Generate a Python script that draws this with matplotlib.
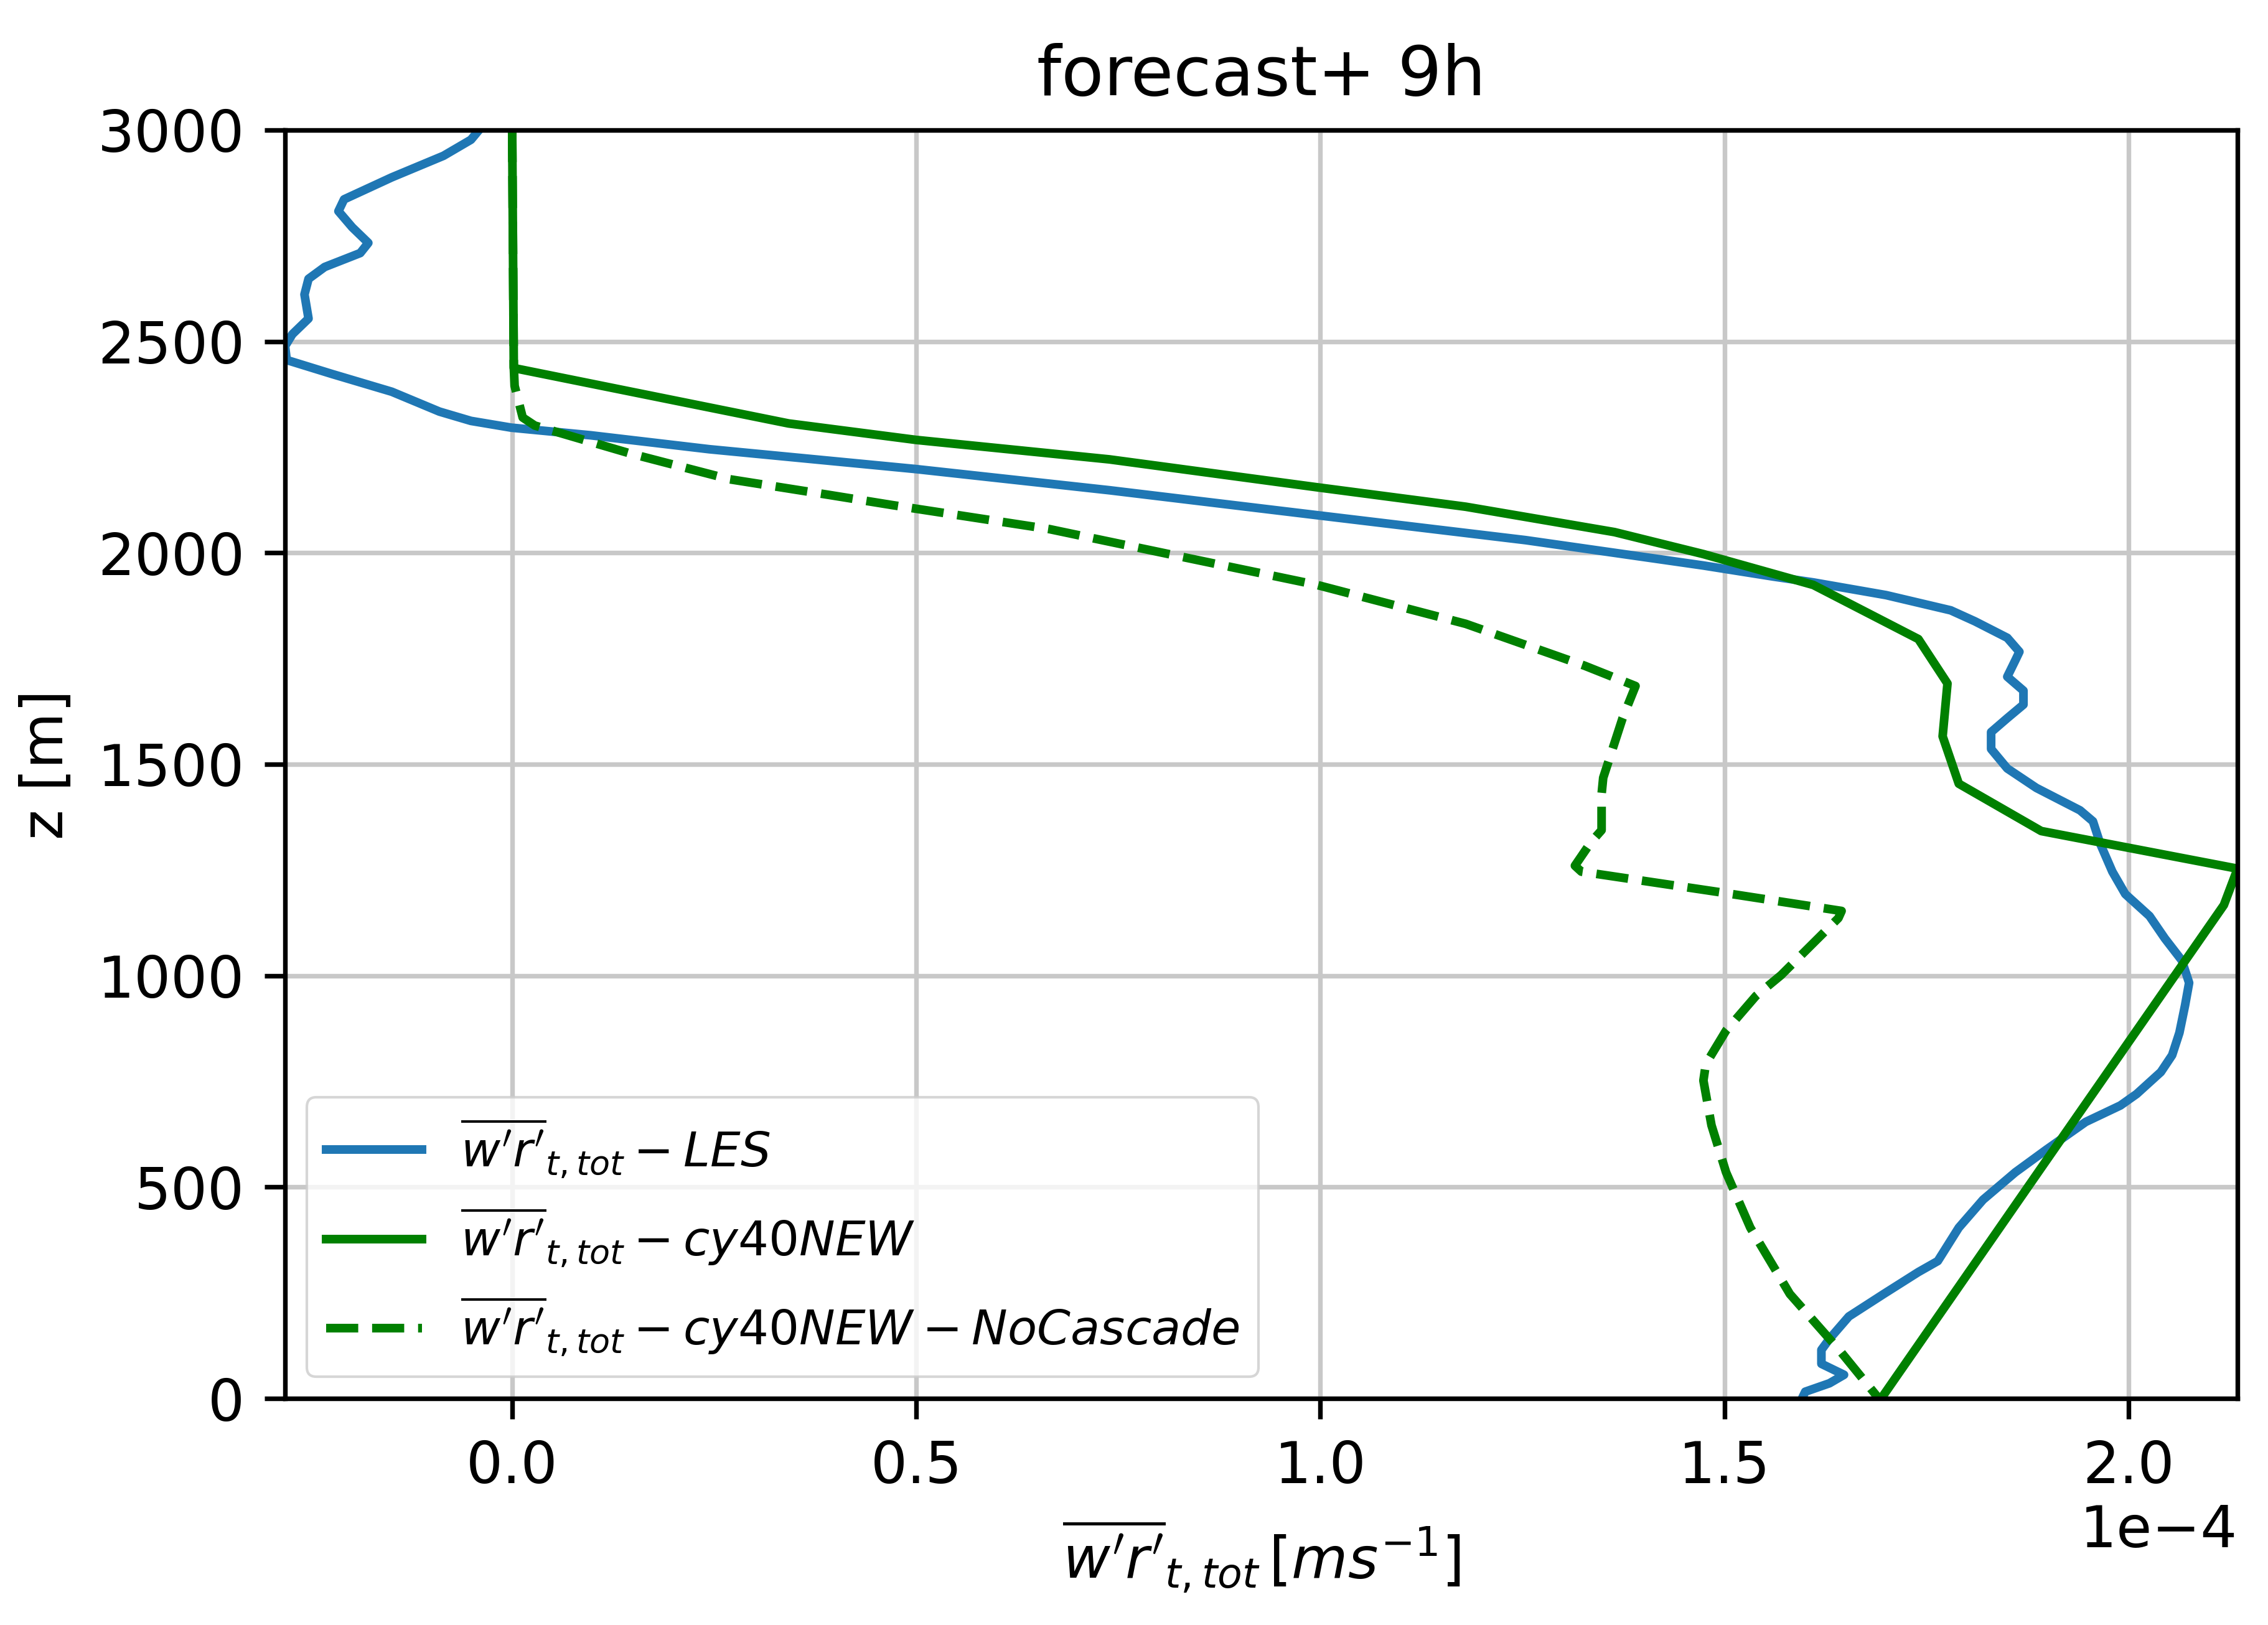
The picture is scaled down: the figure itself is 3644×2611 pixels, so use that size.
import matplotlib
matplotlib.use('Agg')
import matplotlib.pyplot as plt
import numpy as np

# profiles: flux in units of 1e-4 m/s, height in m

z_les = [3000, 2977, 2939, 2888, 2836, 2808, 2770, 2733, 2709, 2676, 2648, 2611,
         2554, 2517, 2489, 2456, 2423, 2381, 2334, 2312, 2296, 2278, 2245, 2198,
         2148, 2089, 2030, 1970, 1944, 1930, 1900, 1864, 1838, 1799, 1766, 1746,
         1707, 1674, 1641, 1609, 1576, 1536, 1490, 1444, 1391, 1365, 1312, 1246,
         1193, 1141, 1088, 1036, 983, 930, 865, 812, 772, 720, 693, 654, 588, 535,
         470, 404, 325, 299, 247, 194, 141, 115, 82, 56, 36, 16, 0]
w_les = [-0.041, -0.051, -0.085, -0.149, -0.208, -0.215, -0.198, -0.178, -0.188,
         -0.232, -0.252, -0.257, -0.252, -0.272, -0.281, -0.279, -0.223, -0.149,
         -0.090, -0.051, -0.001, 0.097, 0.244, 0.50, 0.739, 0.996, 1.254, 1.474,
         1.56, 1.61, 1.70, 1.78, 1.81, 1.85, 1.865, 1.86, 1.85, 1.87, 1.87, 1.85,
         1.83, 1.83, 1.85, 1.886, 1.94, 1.956, 1.965, 1.98, 1.996, 2.026, 2.045,
         2.066, 2.075, 2.07, 2.063, 2.054, 2.04, 2.01, 1.99, 1.947, 1.898, 1.86,
         1.82, 1.79, 1.764, 1.74, 1.697, 1.654, 1.63, 1.62, 1.62, 1.648, 1.63,
         1.60, 1.596]

z_cy40 = [3000, 2437, 2306, 2267, 2221, 2155, 2109, 2049, 1997, 1924, 1796, 1691,
          1566, 1454, 1342, 1253, 1167, 540, 0]
w_cy40 = [0.0, 0.002, 0.342, 0.5, 0.739, 0.996, 1.18, 1.364, 1.474, 1.61, 1.74,
          1.776, 1.77, 1.79, 1.892, 2.135, 2.118, 1.89, 1.694]

z_nocasc = [3000, 2440, 2395, 2320, 2301, 2235, 2174, 2137, 2113, 2056, 1997, 1924,
            1832, 1733, 1685, 1609, 1468, 1429, 1344, 1316, 1260, 1246, 1198, 1153,
            1136, 1001, 952, 870, 791, 752, 646, 535, 404, 247, 115, 0]
w_nocasc = [0.0, 0.002, 0.003, 0.013, 0.028, 0.146, 0.269, 0.392, 0.47, 0.665,
            0.8125, 0.996, 1.18, 1.327, 1.39, 1.374, 1.35, 1.348, 1.348, 1.335,
            1.315, 1.323, 1.492, 1.645, 1.641, 1.57, 1.539, 1.502, 1.477, 1.474,
            1.484, 1.502, 1.532, 1.581, 1.642, 1.691]

x_ticks = [0.0, 0.5, 1.0, 1.5, 2.0]
y_ticks = [0, 500, 1000, 1500, 2000, 2500, 3000]

k = 2.23  # size factor so point sizes match the picture at 300 dpi
fs = 10 * k

plt.rcParams['font.size'] = fs
plt.rcParams['mathtext.fontset'] = 'dejavusans'

fig = plt.figure(figsize=(3644 / 300, 2611 / 300), dpi=300)
ax = fig.add_axes([0.1257, 0.1394, 0.8609, 0.7806])

scale = 1e-4
ax.plot(np.array(w_les) * scale, z_les, color='#1f77b4', lw=1.5 * k,
        label=r"$\overline{w'r'}_{t,tot} - LES$")
ax.plot(np.array(w_cy40) * scale, z_cy40, color='green', lw=1.5 * k,
        label=r"$\overline{w'r'}_{t,tot} - cy40NEW$")
ax.plot(np.array(w_nocasc) * scale, z_nocasc, '--', color='green', lw=1.5 * k,
        label=r"$\overline{w'r'}_{t,tot} - cy40NEW - NoCascade$")

all_w = np.concatenate([w_les, w_cy40, w_nocasc]) * scale
ax.set_xlim(all_w.min(), all_w.max())
ax.set_ylim(0, 3000)
ax.set_xticks(np.array(x_ticks) * scale)
ax.set_yticks(y_ticks)
ax.ticklabel_format(axis='x', style='sci', scilimits=(0, 0))

ax.grid(True, color='#c8c8c8', lw=0.8 * k)
ax.set_axisbelow(True)
for s in ax.spines.values():
    s.set_linewidth(0.8 * k)
ax.tick_params(length=3.5 * k, width=0.8 * k, pad=3.5 * k, labelsize=fs)
ax.xaxis.get_offset_text().set_fontsize(fs)

ax.set_title('forecast+ 9h', fontsize=12 * k, pad=6 * k)
ax.set_xlabel(r"$\overline{w'r'}_{t,tot}\,[ms^{-1}]$", fontsize=fs, labelpad=4 * k)
ax.set_ylabel('z [m]', fontsize=fs, labelpad=4 * k)

ax.legend(loc='lower left', fontsize=8.3 * k, handlelength=2.0, borderaxespad=0.45,
          labelspacing=0.55, framealpha=0.8)

fig.savefig('out.png', dpi=300)
